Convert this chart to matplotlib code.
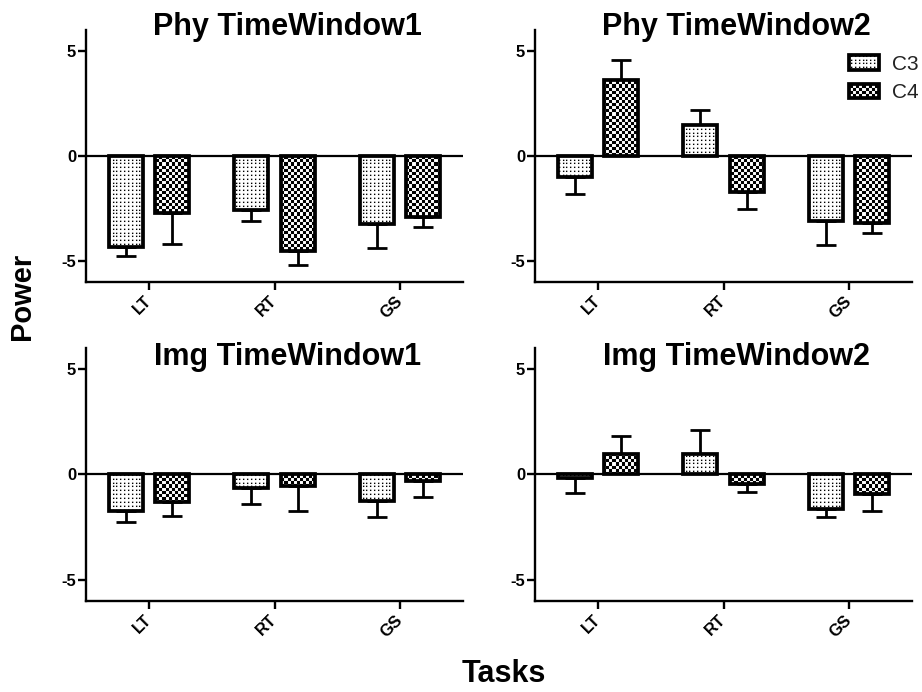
import numpy as np
import matplotlib
matplotlib.use("Agg")
import matplotlib.pyplot as plt
import matplotlib.hatch as mhatch
from matplotlib.path import Path

# ---- data -------------------------------------------------------------
tasks = ["LT", "RT", "GS"]
channels = ["C3", "C4"]
titles = ["Phy TimeWindow1", "Phy TimeWindow2", "Img TimeWindow1", "Img TimeWindow2"]

phy_tw1_c3 = [-4.33, -2.59, -3.22]
phy_tw1_c3_err = [0.45, 0.51, 1.15]
phy_tw1_c4 = [-2.71, -4.52, -2.90]
phy_tw1_c4_err = [1.46, 0.65, 0.48]

phy_tw2_c3 = [-1.00, 1.49, -3.10]
phy_tw2_c3_err = [0.83, 0.72, 1.15]
phy_tw2_c4 = [3.63, -1.71, -3.19]
phy_tw2_c4_err = [0.96, 0.80, 0.48]

img_tw1_c3 = [-1.74, -0.63, -1.27]
img_tw1_c3_err = [0.52, 0.76, 0.76]
img_tw1_c4 = [-1.31, -0.55, -0.32]
img_tw1_c4_err = [0.67, 1.19, 0.76]

img_tw2_c3 = [-0.16, 0.98, -1.63]
img_tw2_c3_err = [0.71, 1.12, 0.38]
img_tw2_c4 = [0.98, -0.47, -0.92]
img_tw2_c4_err = [0.84, 0.37, 0.82]

yticks = [-5, 0, 5]

panels = [
    (phy_tw1_c3, phy_tw1_c3_err, phy_tw1_c4, phy_tw1_c4_err),
    (phy_tw2_c3, phy_tw2_c3_err, phy_tw2_c4, phy_tw2_c4_err),
    (img_tw1_c3, img_tw1_c3_err, img_tw1_c4, img_tw1_c4_err),
    (img_tw2_c3, img_tw2_c3_err, img_tw2_c4, img_tw2_c4_err),
]


# ---- fill patterns: fine dot grid (C3) and checkerboard (C4) -----------
TILE = 100  # hatch tile size in pixels at 100 dpi


def _square(vertices, codes, k, x0, y0, x1, y1):
    vertices[k:k + 5] = [(x0, y0), (x1, y0), (x1, y1), (x0, y1), (x0, y0)]
    codes[k:k + 5] = [Path.MOVETO, Path.LINETO, Path.LINETO,
                      Path.LINETO, Path.CLOSEPOLY]


class CheckerHatch(mhatch.HatchPatternBase):
    cells = 32

    def __init__(self, hatch, density):
        n = self.cells
        self.num_squares = (n * n) // 2 if "O" in hatch else 0
        self.num_vertices = self.num_squares * 5

    def set_vertices_and_codes(self, vertices, codes):
        n = self.cells
        edges = np.round(np.arange(n + 1) * TILE / n) / TILE
        k = 0
        for i in range(n):
            for j in range(n):
                if (i + j) % 2 == 0:
                    _square(vertices, codes, k, edges[i], edges[j],
                            edges[i + 1], edges[j + 1])
                    k += 5


class DotHatch(mhatch.HatchPatternBase):
    cells = 26

    def __init__(self, hatch, density):
        n = self.cells
        self.num_dots = n * n if "o" in hatch else 0
        self.num_vertices = self.num_dots * 5

    def set_vertices_and_codes(self, vertices, codes):
        n = self.cells
        starts = np.round(np.arange(n) * TILE / n + 1) / TILE
        d = 1.3 / TILE
        k = 0
        for i in range(n):
            for j in range(n):
                _square(vertices, codes, k, starts[i], starts[j],
                        starts[i] + d, starts[j] + d)
                k += 5


mhatch._hatch_types[mhatch._hatch_types.index(mhatch.LargeCircles)] = CheckerHatch
mhatch._hatch_types[mhatch._hatch_types.index(mhatch.SmallCircles)] = DotHatch

plt.rcParams["font.family"] = ["Liberation Sans", "DejaVu Sans"]
plt.rcParams["hatch.linewidth"] = 0.05

W, H = 922, 692
fig = plt.figure(figsize=(W / 100, H / 100), dpi=100)
fig.patch.set_facecolor("white")

# axes rectangles in pixels: (left, top, right, bottom)
rects = [(86, 30, 463, 282), (535, 30, 912, 282),
         (86, 348, 463, 600.7), (535, 348, 912, 600.7)]
title_baselines = [35, 35, 365, 365]

x = np.arange(len(tasks))
offset = 0.185
width = 0.27
hatches = ["o", "O"]

for idx, (rect, title, data) in enumerate(zip(rects, titles, panels)):
    l, t, r, b = rect
    ax = fig.add_axes([l / W, 1 - b / H, (r - l) / W, (b - t) / H])
    c3, c3e, c4, c4e = data
    for k, (vals, errs) in enumerate([(c3, c3e), (c4, c4e)]):
        vals = np.asarray(vals)
        errs = np.asarray(errs)
        xs = x + (-offset if k == 0 else offset)
        lower = np.where(vals < 0, errs, 0)
        upper = np.where(vals >= 0, errs, 0)
        ax.errorbar(xs, vals, yerr=[lower, upper], fmt="none", ecolor="black",
                    elinewidth=2.0, capsize=7, capthick=2.0, zorder=1.5)
        ax.bar(xs, vals, width, facecolor="white", edgecolor="black",
               linewidth=2.7, hatch=hatches[k], label=channels[k], zorder=2)
    ax.axhline(0, color="black", linewidth=1.6, zorder=3)

    ax.set_xlim(-0.5, 2.5)
    ax.set_ylim(-6, 6)
    ax.set_yticks(yticks)
    ax.set_yticklabels([str(v) for v in yticks], fontsize=12, fontweight="bold")
    ax.set_xticks(x)
    ax.set_xticklabels(tasks, fontsize=12, fontweight="bold", rotation=45,
                       ha="right", va="center", rotation_mode="anchor")
    for s in ["top", "right"]:
        ax.spines[s].set_visible(False)
    for s in ["left", "bottom"]:
        ax.spines[s].set_linewidth(1.7)
    ax.tick_params(axis="both", direction="out", length=6, width=1.7)
    ax.tick_params(axis="y", pad=1)
    ax.tick_params(axis="x", pad=6)
    ax.set_facecolor("white")

    ax.text(0.535, (b - title_baselines[idx]) / (b - t), title,
            transform=ax.transAxes, ha="center", va="baseline",
            fontsize=22, fontweight="bold")

    if idx == 1:
        leg = ax.legend(loc="upper left", bbox_to_anchor=(849 / W, 1 - 55 / H),
                        bbox_transform=fig.transFigure, frameon=False,
                        borderpad=0, borderaxespad=0, handlelength=1.45,
                        handleheight=0.7, handletextpad=0.62, labelspacing=0.45,
                        fontsize=15)
        for txt in leg.get_texts():
            txt.set_color("#222222")

fig.text(22 / W, 1 - 296 / H, "Power", rotation=90, ha="center", va="center",
         fontsize=21, fontweight="bold")
fig.text(504 / W, 1 - 674 / H, "Tasks", ha="center", va="center",
         fontsize=22, fontweight="bold")

fig.savefig("out.png", dpi=100, facecolor="white")
